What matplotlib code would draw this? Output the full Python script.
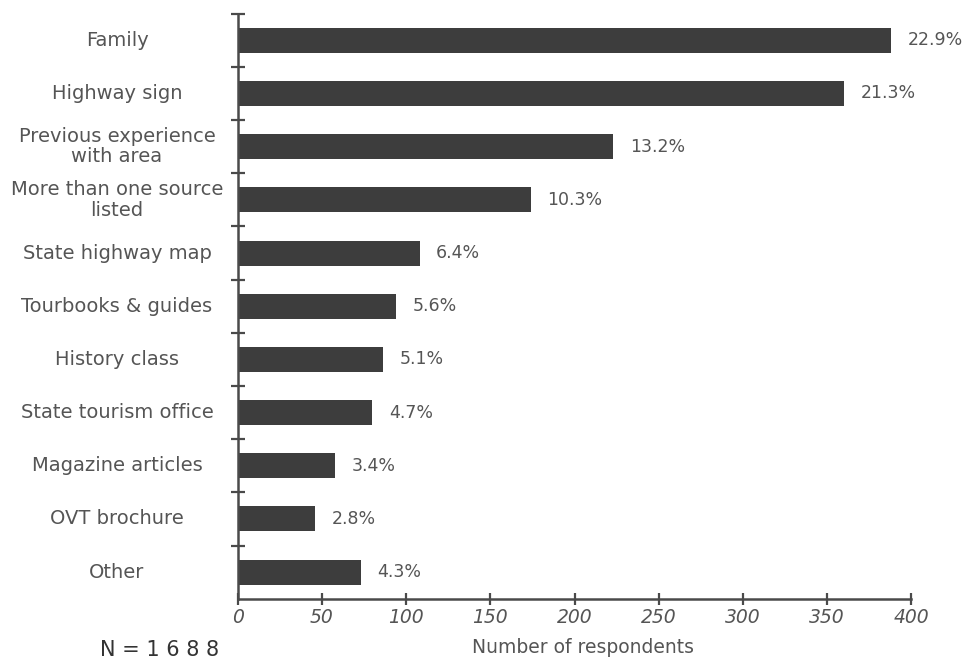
import matplotlib
matplotlib.use("Agg")
import matplotlib.pyplot as plt
import matplotlib.transforms as mtransforms

categories = ["Family", "Highway sign", "Previous experience\nwith area",
              "More than one source\nlisted", "State highway map",
              "Tourbooks & guides", "History class", "State tourism office",
              "Magazine articles", "OVT brochure", "Other"]
respondents = [388, 360, 223, 174, 108, 94, 86, 80, 58, 46, 73]
percent_labels = ["22.9%", "21.3%", "13.2%", "10.3%", "6.4%", "5.6%",
                  "5.1%", "4.7%", "3.4%", "2.8%", "4.3%"]
x_ticks = [0, 50, 100, 150, 200, 250, 300, 350, 400]
x_label = "Number of respondents"
n_note = "N = 1 6 8 8"

text_col = "#555555"
bar_col = "#3d3d3d"
axis_col = "#4a4a4a"
font = "DejaVu Sans"

fig = plt.figure(figsize=(9.66, 6.62), dpi=100)
ax = fig.add_axes([237.7 / 966, 1 - 598.7 / 662, (911.3 - 237.7) / 966, (598.7 - 13.7) / 662])

ypos = list(range(len(categories)))
ax.barh(ypos, respondents, height=0.47, color=bar_col, zorder=2)

ax.set_xlim(0, 400)
ax.set_ylim(len(categories) - 0.5, -0.5)

for s in ["top", "right"]:
    ax.spines[s].set_visible(False)
for s in ["left", "bottom"]:
    ax.spines[s].set_color(axis_col)
    ax.spines[s].set_linewidth(1.8)

# y ticks at boundaries between categories
ax.set_yticks([i - 0.5 for i in range(len(categories))])
ax.set_yticklabels([])
ax.tick_params(axis="y", direction="inout", length=10, width=1.6, color=axis_col)

ax.set_xticks(x_ticks)
ax.set_xticklabels([str(t) for t in x_ticks], fontsize=13.5, color=text_col,
                   fontstyle="italic", family=font)
ax.tick_params(axis="x", direction="inout", length=8, width=1.6, color=axis_col, pad=3)

# category labels, centered
trans = mtransforms.blended_transform_factory(fig.transFigure, ax.transData)
for y, lab in zip(ypos, categories):
    ax.text(117 / 966, y, lab, transform=trans, ha="center", va="center",
            fontsize=14, color=text_col, family=font, linespacing=1.1)

# percentage labels
for y, v, lab in zip(ypos, respondents, percent_labels):
    ax.annotate(lab, (v, y), xytext=(12, 0), textcoords="offset points",
                ha="left", va="center", fontsize=12.5, color=text_col, family=font)

ax.set_xlabel(x_label, fontsize=13.5, color=text_col, family=font)
ax.xaxis.set_label_coords((583 - 237.7) / (911.3 - 237.7), -0.068)

fig.text(160 / 966, 1 - 650 / 662, n_note, ha="center", va="center",
         fontsize=15, color="#333333", family=font)

fig.savefig("out.png", dpi=100, facecolor="white")
